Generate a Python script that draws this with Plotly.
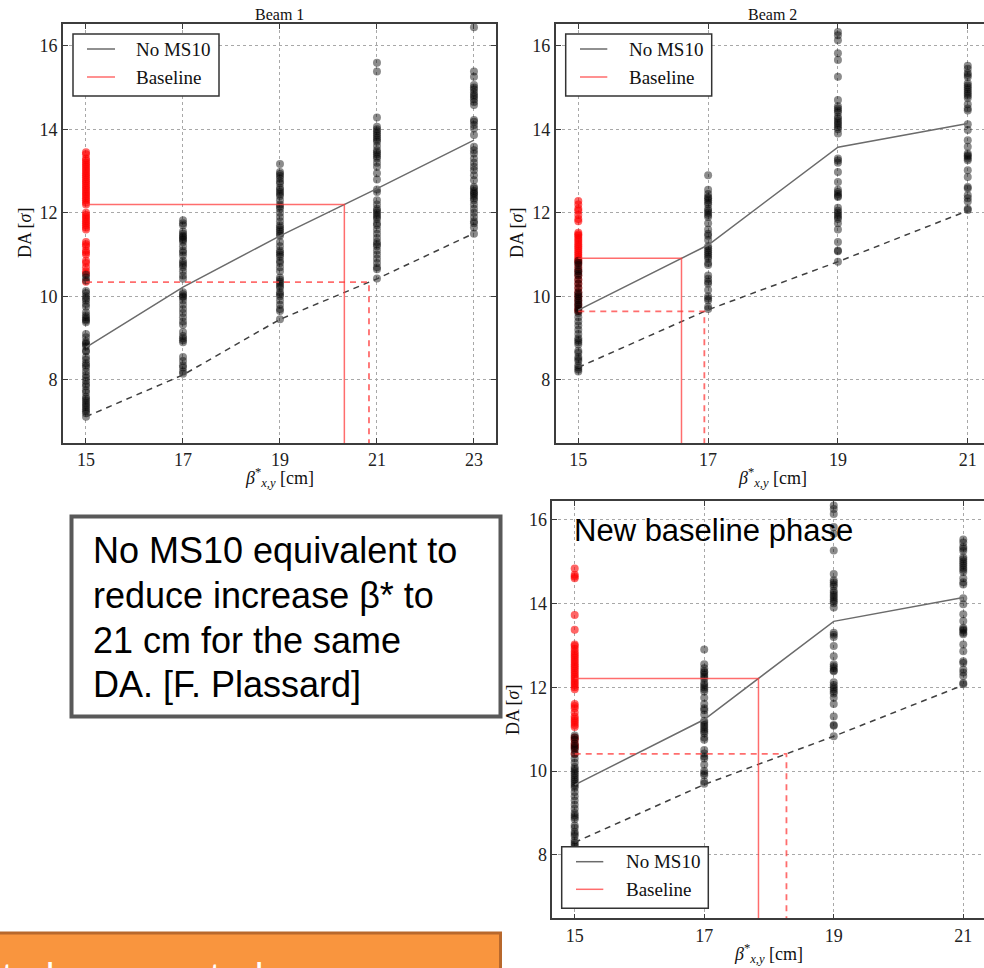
import numpy as np
import plotly.graph_objects as go

# ---------------- data ----------------
beta_b1 = [15, 17, 19, 21, 23]
beta_b2 = [15, 17, 19, 21]

# Beam 1 : No MS10 seeds (black)
b1_15 = [10.52, 10.45, 10.38, 10.13, 10.08, 10.0, 9.95, 9.9, 9.82, 9.75, 9.62, 9.55, 9.5, 9.45, 9.42, 9.38,
         9.1, 9.02, 8.92, 8.88, 8.85, 8.8, 8.7, 8.68, 8.55, 8.48, 8.4, 8.35, 8.3, 8.2, 8.12, 8.05, 7.98,
         7.9, 7.85, 7.75, 7.7, 7.6, 7.55, 7.5, 7.45, 7.4, 7.35, 7.3, 7.25, 7.2, 7.12]
b1_17 = [11.82, 11.75, 11.7, 11.55, 11.5, 11.45, 11.42, 11.38, 11.35, 11.3, 11.2, 11.1, 11.05, 10.98, 10.85,
         10.8, 10.75, 10.7, 10.6, 10.5, 10.42, 10.1, 10.05, 10.0, 9.98, 9.9, 9.8, 9.7, 9.6, 9.5, 9.4, 9.32,
         9.15, 9.05, 9.0, 8.95, 8.9, 8.55, 8.45, 8.35, 8.3, 8.2, 8.15]
b1_19 = [13.17, 12.98, 12.93, 12.88, 12.82, 12.75, 12.7, 12.6, 12.55, 12.5, 12.45, 12.4, 12.3, 12.2, 12.15,
         12.1, 12.0, 11.9, 11.8, 11.7, 11.65, 11.6, 11.55, 11.5, 11.45, 11.3, 11.2, 11.1, 11.05, 11.0, 10.95,
         10.85, 10.8, 10.7, 10.6, 10.45, 10.4, 10.35, 10.3, 10.25, 10.2, 10.1, 10.05, 10.0, 9.9, 9.8, 9.7,
         9.65, 9.45]
b1_21 = [15.59, 15.38, 14.28, 14.06, 14.0, 13.95, 13.9, 13.85, 13.8, 13.75, 13.7, 13.6, 13.5, 13.45, 13.4,
         13.35, 13.3, 13.2, 13.1, 12.95, 12.8, 12.56, 12.5, 12.3, 12.2, 12.1, 12.05, 12.0, 11.95, 11.9, 11.85,
         11.75, 11.7, 11.6, 11.5, 11.4, 11.3, 11.25, 11.2, 11.1, 11.0, 10.9, 10.8, 10.7, 10.65, 10.43]
b1_23 = [16.44, 15.38, 15.26, 15.06, 15.0, 14.95, 14.88, 14.82, 14.78, 14.72, 14.65, 14.58, 14.22, 14.18,
         14.1, 14.02, 13.86, 13.58, 13.5, 13.42, 13.3, 13.2, 13.1, 13.02, 12.9, 12.78, 12.62, 12.58, 12.52,
         12.48, 12.45, 12.4, 12.35, 12.3, 12.2, 12.1, 12.0, 11.9, 11.8, 11.75, 11.65, 11.5]
# Beam 1 : baseline seeds (red) at 15 cm
b1_base = [13.45, 13.4, 13.3, 13.25, 13.2, 13.15, 13.1, 13.05, 13.0, 12.95, 12.9, 12.85, 12.8, 12.75, 12.7,
           12.65, 12.6, 12.55, 12.5, 12.45, 12.4, 12.35, 12.3, 12.25, 12.2, 12.0, 11.95, 11.9, 11.85, 11.8,
           11.75, 11.7, 11.65, 11.6, 11.3, 11.25, 11.2, 11.1, 11.05, 11.0, 10.85, 10.8, 10.7, 10.6, 10.55, 10.35]
b1_mean = [8.78, 10.22, 11.45, 12.58, 13.74]
b1_min = [7.12, 8.12, 9.45, 10.42, 11.51]
b1_base_mean = 12.2
b1_base_min = 10.34

# Beam 2 : No MS10 seeds (black)
b2_15 = [10.85, 10.8, 10.75, 10.65, 10.6, 10.55, 10.5, 10.4, 10.3, 10.2, 10.1, 10.05, 10.0, 9.95, 9.9, 9.85,
         9.8, 9.75, 9.7, 9.65, 9.6, 9.5, 9.4, 9.3, 9.2, 9.1, 9.0, 8.95, 8.9, 8.85, 8.7, 8.65, 8.55, 8.5, 8.45,
         8.35, 8.3, 8.25, 8.2]
b2_17 = [12.9, 12.55, 12.45, 12.38, 12.35, 12.3, 12.25, 12.2, 12.1, 12.05, 12.0, 11.95, 11.9, 11.75, 11.6,
         11.5, 11.45, 11.35, 11.2, 11.15, 11.1, 11.05, 11.0, 10.95, 10.9, 10.8, 10.75, 10.5, 10.42, 10.35, 10.3,
         10.15, 10.0, 9.95, 9.9, 9.75, 9.7]
b2_19 = [16.33, 16.25, 16.13, 15.82, 15.66, 15.26, 14.7, 14.55, 14.5, 14.45, 14.4, 14.3, 14.25, 14.2, 14.15,
         14.1, 14.05, 14.0, 13.9, 13.3, 13.25, 13.2, 12.98, 12.74, 12.55, 12.5, 12.45, 12.4, 12.38, 12.12,
         12.05, 12.0, 11.95, 11.9, 11.85, 11.75, 11.6, 11.3, 11.1, 11.08, 10.83]
b2_21 = [15.52, 15.45, 15.35, 15.3, 15.25, 15.1, 15.05, 15.0, 14.95, 14.9, 14.85, 14.8, 14.75, 14.6, 14.5,
         14.45, 14.12, 13.98, 13.74, 13.58, 13.42, 13.38, 13.35, 13.3, 13.26, 13.02, 12.86, 12.62, 12.58,
         12.42, 12.35, 12.27, 12.1, 12.07]
# Beam 2 : baseline seeds (red) at 15 cm
b2_base = [12.28, 12.2, 12.1, 12.05, 11.95, 11.85, 11.8, 11.52, 11.48, 11.45, 11.4, 11.35, 11.3, 11.25, 11.2,
           11.15, 11.1, 11.05, 11.0, 10.95, 10.9, 10.85, 10.8, 10.7, 10.6, 10.5, 10.4, 10.3, 10.2, 10.1, 10.0,
           9.9, 9.8, 9.7, 9.65]
b2_mean = [9.67, 11.23, 13.57, 14.14]
b2_min = [8.3, 9.68, 10.83, 12.05]
b2_base_mean = 10.91
b2_base_min = 9.64

# New baseline phase (Beam 2 optics) : baseline seeds (red) at 15 cm
nb_base = [14.83, 14.68, 14.64, 14.6, 13.72, 13.37, 13.02, 12.98, 12.92, 12.85, 12.8, 12.75, 12.7, 12.65,
           12.6, 12.55, 12.5, 12.45, 12.4, 12.35, 12.3, 12.25, 12.2, 12.15, 12.1, 12.05, 12.0, 11.95, 11.6,
           11.55, 11.5, 11.4, 11.3, 11.25, 11.2, 11.15, 11.1, 11.05, 10.8, 10.75, 10.65, 10.6, 10.55, 10.42]
nb_base_mean = 12.21
nb_base_min = 10.41

legend_names = ["No MS10", "Baseline"]

# ---------------- styling helpers ----------------
W, H = 984, 968
def PX(px):
    return px / W
def PY(py):
    return 1 - py / H

SERIF = "Liberation Serif"
SANS = "Liberation Sans"
BLACK_DOT = "rgba(0,0,0,0.45)"
RED_DOT = "rgba(255,0,0,0.6)"
GRAY_LINE = "#6b6b6b"
DASH_LINE = "#404040"
RED_LINE = "rgba(255,60,60,0.75)"

fig = go.Figure()

def add_panel(xa, ya, betas, cols, base, mean, mn, base_mean, base_min, ybottom):
    # red baseline seeds first
    fig.add_trace(go.Scatter(x=[15] * len(base), y=base, mode="markers", xaxis=xa, yaxis=ya,
                             marker=dict(color=RED_DOT, size=8, line=dict(width=0)),
                             showlegend=False, hoverinfo="skip"))
    for b, col in zip(betas, cols):
        fig.add_trace(go.Scatter(x=[b] * len(col), y=col, mode="markers", xaxis=xa, yaxis=ya,
                                 marker=dict(color=BLACK_DOT, size=8, line=dict(width=0)),
                                 showlegend=False, hoverinfo="skip"))
    fig.add_trace(go.Scatter(x=betas, y=mean, mode="lines", xaxis=xa, yaxis=ya, name=legend_names[0],
                             line=dict(color=GRAY_LINE, width=1.5), showlegend=False))
    fig.add_trace(go.Scatter(x=betas, y=mn, mode="lines", xaxis=xa, yaxis=ya, showlegend=False,
                             line=dict(color=DASH_LINE, width=1.5, dash="6px,5px")))
    xc_mean = float(np.interp(base_mean, mean, betas))
    xc_min = float(np.interp(base_min, mn, betas))
    fig.add_trace(go.Scatter(x=[15, xc_mean, xc_mean], y=[base_mean, base_mean, ybottom], mode="lines",
                             xaxis=xa, yaxis=ya, name=legend_names[1], showlegend=False,
                             line=dict(color=RED_LINE, width=1.5)))
    fig.add_trace(go.Scatter(x=[15, xc_min, xc_min], y=[base_min, base_min, ybottom], mode="lines",
                             xaxis=xa, yaxis=ya, showlegend=False,
                             line=dict(color=RED_LINE, width=1.8, dash="6px,5px")))

add_panel("x", "y", beta_b1, [b1_15, b1_17, b1_19, b1_21, b1_23], b1_base,
          b1_mean, b1_min, b1_base_mean, b1_base_min, 5.0)
add_panel("x2", "y2", beta_b2, [b2_15, b2_17, b2_19, b2_21], b2_base,
          b2_mean, b2_min, b2_base_mean, b2_base_min, 5.0)
add_panel("x3", "y3", beta_b2, [b2_15, b2_17, b2_19, b2_21], nb_base,
          b2_mean, b2_min, nb_base_mean, nb_base_min, 5.0)

axis_common = dict(showgrid=True, gridcolor="#a8a8a8", griddash="dot", gridwidth=1,
                   zeroline=False, showline=True, linecolor="#3c3c3c", linewidth=1.6,
                   ticks="inside", ticklen=5, tickcolor="#3c3c3c", tickwidth=1,
                   tickfont=dict(family=SERIF, size=18, color="#222"))

fig.update_layout(
    xaxis=dict(axis_common, domain=[PX(63), PX(496)], range=[14.526, 23.454], anchor="y",
               tickvals=beta_b1, mirror="allticks"),
    yaxis=dict(axis_common, domain=[PY(443), PY(24)], range=[6.49, 16.52], anchor="x",
               tickvals=[8, 10, 12, 14, 16], mirror="allticks"),
    xaxis2=dict(axis_common, domain=[PX(555.7), 1.0], range=[14.652, 21.25], anchor="y2",
                tickvals=beta_b2, mirror="allticks"),
    yaxis2=dict(axis_common, domain=[PY(443), PY(24)], range=[6.49, 16.52], anchor="x2",
                tickvals=[8, 10, 12, 14, 16], mirror=False),
    xaxis3=dict(axis_common, domain=[PX(552.3), 1.0], range=[14.654, 21.32], anchor="y3",
                tickvals=beta_b2, mirror="allticks"),
    yaxis3=dict(axis_common, domain=[PY(918.3), PY(501)], range=[6.49, 16.44], anchor="x3",
                tickvals=[8, 10, 12, 14, 16], mirror=False),
)

ann = []
shapes = []
def txt(text, px, py, size, family=SERIF, angle=0, xanchor="center", color="#111"):
    ann.append(dict(text=text, x=PX(px), y=PY(py), xref="paper", yref="paper", showarrow=False,
                    xanchor=xanchor, yanchor="middle", textangle=angle,
                    font=dict(family=family, size=size, color=color)))

txt("Beam 1", 279, 14, 16)
txt("Beam 2", 772, 14, 16)
xlab = "<i>β</i><sup>*</sup><sub><i>x,y</i></sub> [cm]"
txt(xlab, 279, 478, 18)
txt(xlab, 772, 478, 18)
txt(xlab, 768, 953, 18)
ylab = "DA [<i>σ</i>]"
txt(ylab, 25, 233, 18, angle=-90)
txt(ylab, 517, 233, 18, angle=-90)
txt(ylab, 513, 710, 18, angle=-90)

# legend boxes (drawn as frame + line samples + labels)
def legend_box(x0, y0, x1, y1, line_x0, line_x1, text_x, rows):
    shapes.append(dict(type="rect", xref="paper", yref="paper", x0=PX(x0), x1=PX(x1), y0=PY(y1), y1=PY(y0),
                       line=dict(color="#333", width=1.5), fillcolor="white", layer="above"))
    for (ry, col), name in zip(zip(rows, [GRAY_LINE, RED_LINE]), legend_names):
        shapes.append(dict(type="line", xref="paper", yref="paper", x0=PX(line_x0), x1=PX(line_x1),
                           y0=PY(ry), y1=PY(ry), line=dict(color=col, width=1.5), layer="above"))
        txt(name, text_x, ry, 19, xanchor="left")

legend_box(73, 34, 219, 96, 87, 115, 134, [49, 77])
legend_box(565.7, 34, 711.7, 96, 580, 607.3, 627, [49, 77])
legend_box(561.7, 846.7, 708.3, 908.3, 576, 603.3, 624, [861.7, 889.3])

box_lines = ["No MS10 equivalent to", "reduce increase β* to", "21 cm for the same", "DA. [F. Plassard]"]
for i, line in enumerate(box_lines):
    txt(line, 91, 563.3 + i * 44.7 - 12.5, 36, family=SANS, xanchor="left", color="#000")

txt("New baseline phase", 572, 530, 31, family=SANS, xanchor="left", color="#000")
txt("to be presented on", -1, 976, 38, family="Lato", xanchor="left", color="#ffffff")

shapes += [
    dict(type="rect", xref="paper", yref="paper", x0=PX(71.5), x1=PX(500.5), y0=PY(716.5), y1=PY(516.5),
         line=dict(color="#595959", width=4), fillcolor="white", layer="below"),
    dict(type="rect", xref="paper", yref="paper", x0=PX(-10), x1=PX(500.5), y0=PY(1000), y1=PY(933),
         line=dict(color="#B8682C", width=3), fillcolor="#F9953E", layer="below"),
]

fig.update_layout(annotations=ann, shapes=shapes, width=W, height=H, showlegend=False,
                  margin=dict(l=0, r=0, t=0, b=0), paper_bgcolor="white", plot_bgcolor="white")

fig.write_html("out.html", config={"displayModeBar": False},
               post_script="document.body.style.margin='0px';document.body.style.overflow='hidden';")
